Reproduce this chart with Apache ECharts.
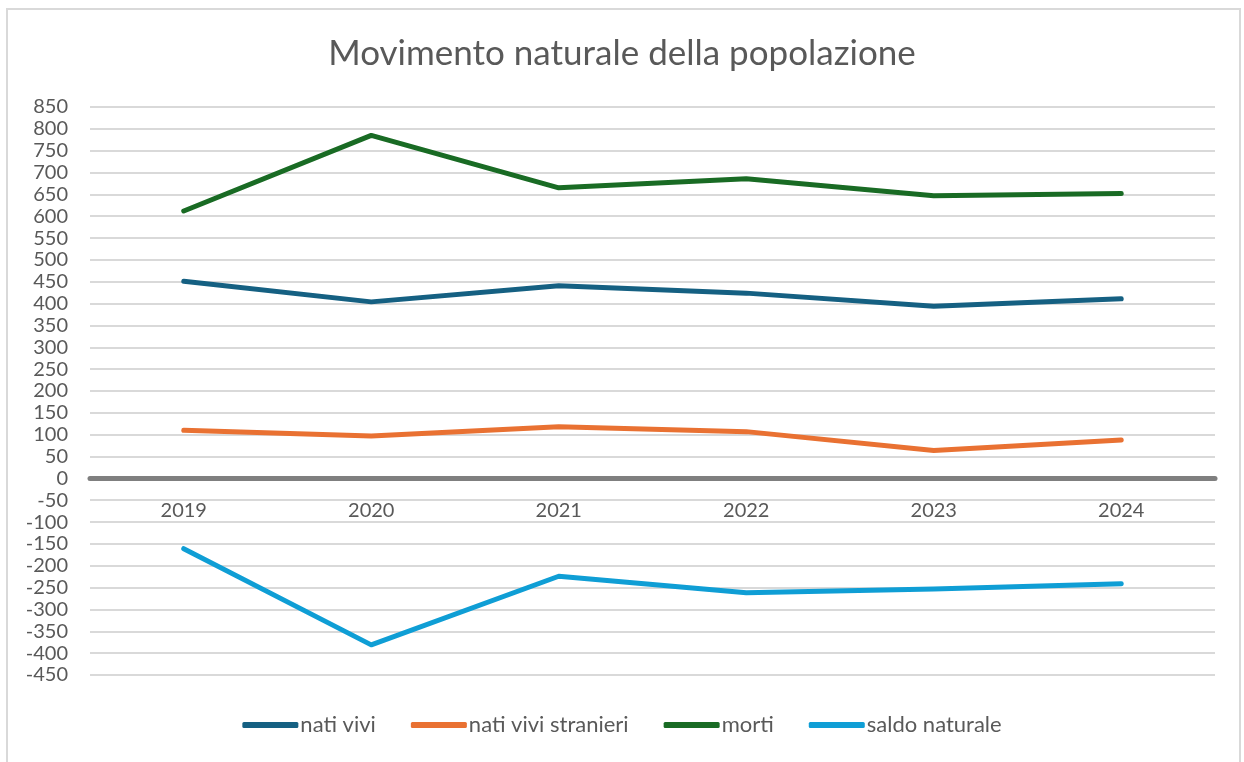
<!DOCTYPE html>
<html>
<head>
<meta charset="utf-8">
<script src="https://cdn.jsdelivr.net/npm/echarts@6/dist/echarts.min.js"></script>
<style>
  html, body { margin: 0; padding: 0; background: #fff; }
  #frame { position: absolute; left: 6px; top: 8px; width: 1235px; height: 760px; border: 1px solid #d9d9d9; border-width: 2px 2px 0 2px; box-sizing: border-box; }
  #container { position: absolute; left: 0; top: 0; width: 1244px; height: 762px; }
</style>
</head>
<body>
<div id="frame"></div>
<div id="container"></div>
<script>
// dati
var anni = ['2019', '2020', '2021', '2022', '2023', '2024'];
var natiVivi = [451, 404, 441, 424, 394, 411];
var natiStranieri = [110, 97, 118, 107, 64, 88];
var morti = [612, 785, 665, 686, 647, 652];
var saldoNaturale = [-161, -381, -224, -262, -253, -241];

var coloriSerie = ['#156082', '#E97132', '#196B24', '#0F9ED5'];
var font = 'Lato';

// asse y
var yMin = -450, yMax = 850;
var gridTop = 107, gridBottom = 87, altezza = 762;
// l'asse delle x passa per lo zero
var offsetZero = (altezza - gridTop - gridBottom) * (0 - yMin) / (yMax - yMin);

function serie(nome, valori, colore) {
	return {
		name: nome,
		type: 'line',
		data: valori,
		symbol: 'none',
		lineStyle: { width: 5, color: colore, cap: 'round', join: 'round' },
		itemStyle: { color: colore }
	};
}

var myChart = echarts.init(document.getElementById('container'));
var option = {
	backgroundColor: 'transparent',
	animation: false,
	title: {
		text: 'Movimento naturale della popolazione',
		left: 'center',
		top: 31,
		textStyle: { fontFamily: font, fontSize: 35, fontWeight: 'normal', color: '#595959' }
	},
	legend: {
		bottom: 21,
		left: 'center',
		icon: 'roundRect',
		itemWidth: 56,
		itemHeight: 6,
		itemGap: 35,
		textStyle: { fontFamily: font, fontSize: 22, color: '#595959', padding: [0, 0, 0, -3] },
		data: ['nati vivi', 'nati vivi stranieri', 'morti', 'saldo naturale']
	},
	grid: { left: 90, right: 29, top: gridTop, bottom: gridBottom, containLabel: false },
	xAxis: {
		type: 'category',
		data: anni,
		boundaryGap: true,
		offset: -offsetZero,
		axisLine: { onZero: false, lineStyle: { color: '#7f7f7f', width: 5 } },
		axisTick: { show: false },
		axisLabel: { fontFamily: font, fontSize: 20, color: '#595959', margin: 22 }
	},
	yAxis: {
		type: 'value',
		min: yMin,
		max: yMax,
		interval: 50,
		axisLine: { show: false },
		axisTick: { show: false },
		axisLabel: { fontFamily: font, fontSize: 20, color: '#595959', margin: 22, lineHeight: 18 },
		splitLine: { lineStyle: { color: '#d9d9d9', width: 2 } }
	},
	series: [
		serie('nati vivi', natiVivi, coloriSerie[0]),
		serie('nati vivi stranieri', natiStranieri, coloriSerie[1]),
		serie('morti', morti, coloriSerie[2]),
		serie('saldo naturale', saldoNaturale, coloriSerie[3])
	]
};
myChart.setOption(option);
</script>
</body>
</html>
